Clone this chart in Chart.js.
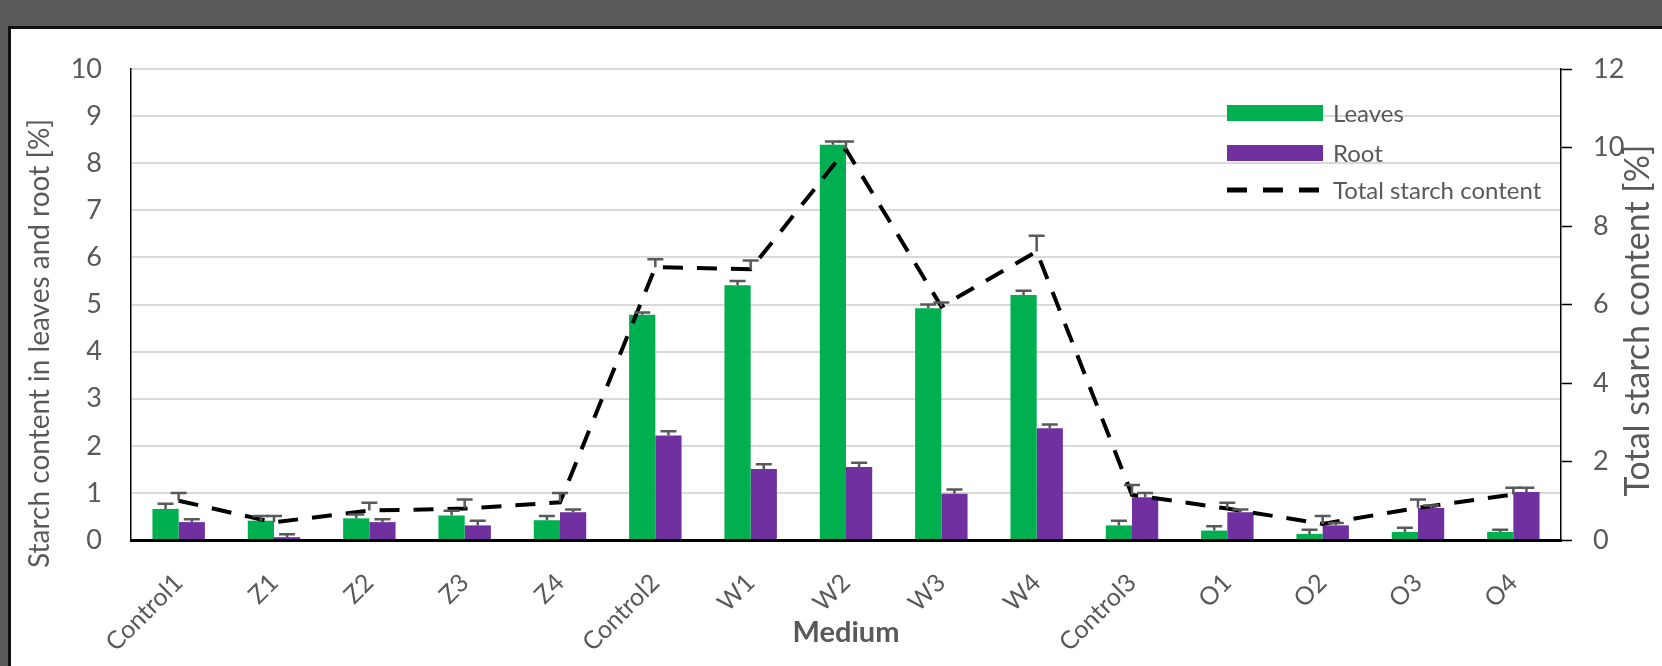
<!DOCTYPE html>
<html>
<head>
<meta charset="utf-8">
<script src="https://cdn.jsdelivr.net/npm/chart.js@4.4.1/dist/chart.umd.min.js"></script>
<style>
  html, body { margin: 0; padding: 0; background: #595959; overflow: hidden; }
  #frame {
    position: absolute; left: 8px; top: 26px; width: 1654px; height: 640px;
    background: #fff; border-left: 3px solid #111; border-top: 3px solid #111;
  }
  #wrap { position: absolute; left: 0; top: 0; width: 1651px; height: 637px; }
</style>
</head>
<body>
<div id="frame"><div id="wrap"><canvas id="my-chart" width="1651" height="637"></canvas></div></div>
<script>
const labels = ["Control1", "Z1", "Z2", "Z3", "Z4", "Control2", "W1", "W2", "W3", "W4", "Control3", "O1", "O2", "O3", "O4"];
// starch content [%], left axis
let leaves = [0.66, 0.41, 0.46, 0.52, 0.42, 4.78, 5.41, 8.39, 4.92, 5.20, 0.31, 0.20, 0.13, 0.17, 0.17];
let leavesErr = [0.11, 0.10, 0.08, 0.10, 0.09, 0.05, 0.09, 0.07, 0.08, 0.09, 0.10, 0.09, 0.09, 0.09, 0.05];
let root = [0.38, 0.06, 0.38, 0.31, 0.59, 2.22, 1.51, 1.55, 0.98, 2.37, 0.91, 0.59, 0.31, 0.68, 1.02];
let rootErr = [0.06, 0.06, 0.06, 0.10, 0.06, 0.09, 0.10, 0.09, 0.09, 0.08, 0.09, 0.06, 0.05, 0.05, 0.09];
// total starch content [%], right axis
let total = [1.0, 0.45, 0.75, 0.8, 0.96, 6.95, 6.9, 9.95, 5.95, 7.35, 1.15, 0.8, 0.41, 0.82, 1.16];
let totalErr = [0.2, 0.16, 0.2, 0.23, 0.24, 0.2, 0.22, 0.2, 0.1, 0.4, 0.25, 0.15, 0.2, 0.21, 0.17];

const gray = "#595959";
Chart.defaults.font.family = "Lato";
Chart.defaults.color = gray;

// plus-only error bars, like the excel original
const errorBars = {
  id: "errorBars",
  afterDatasetsDraw(chart) {
    const ctx = chart.ctx;
    ctx.save();
    ctx.strokeStyle = gray;
    ctx.lineWidth = 2.5;
    chart.data.datasets.forEach((ds, i) => {
      if (!ds.errorBars) return;
      const meta = chart.getDatasetMeta(i);
      const scale = chart.scales[meta.yAxisID];
      meta.data.forEach((el, j) => {
        const y0 = scale.getPixelForValue(ds.data[j]);
        const y1 = scale.getPixelForValue(ds.data[j] + ds.errorBars[j]);
        ctx.beginPath();
        ctx.moveTo(el.x, y0);
        ctx.lineTo(el.x, y1);
        ctx.moveTo(el.x - 8, y1);
        ctx.lineTo(el.x + 8, y1);
        ctx.stroke();
      });
    });
    ctx.restore();
  },
};

// legend inside the plot + both y axis titles (bottom-to-top, placed like excel)
const extras = {
  id: "extras",
  afterDraw(chart) {
    const ctx = chart.ctx;
    const area = chart.chartArea;
    const mid = (area.top + area.bottom) / 2;
    ctx.save();
    const lx = area.right - 334;
    const rows = [
      { text: "Leaves", y: area.top + 44, fill: "#00b050" },
      { text: "Root", y: area.top + 84, fill: "#7030a0" },
      { text: "Total starch content", y: area.top + 121, dash: true },
    ];
    ctx.font = "24px Lato";
    ctx.textBaseline = "middle";
    rows.forEach((r) => {
      if (r.dash) {
        ctx.strokeStyle = "#000";
        ctx.lineWidth = 5;
        ctx.setLineDash([20, 16]);
        ctx.beginPath();
        ctx.moveTo(lx, r.y);
        ctx.lineTo(lx + 96, r.y);
        ctx.stroke();
        ctx.setLineDash([]);
      } else {
        ctx.fillStyle = r.fill;
        ctx.fillRect(lx, r.y - 8, 96, 16);
      }
      ctx.fillStyle = gray;
      ctx.fillText(r.text, lx + 106, r.y + 1);
    });

    ctx.textAlign = "center";
    ctx.save();
    ctx.font = "28px Lato";
    ctx.translate(29, mid + 39);
    ctx.rotate(-Math.PI / 2);
    ctx.fillText("Starch content in leaves and root [%]", 0, 0);
    ctx.restore();

    ctx.font = "34px Lato";
    ctx.translate(area.right + 77, mid + 16);
    ctx.rotate(-Math.PI / 2);
    ctx.fillText("Total starch content [%]", 0, 0);
    ctx.restore();
  },
};

// keep the plot box where excel had it: no extra label padding
function fixPadding(scale) {
  scale.paddingTop = 0;
  scale.paddingBottom = 0;
  scale.paddingLeft = 0;
  scale.paddingRight = 0;
}

let myChart = document.getElementById("my-chart").getContext("2d");

let starchChart = new Chart(myChart, {
  type: "bar",
  data: {
    labels: labels,
    datasets: [
      {
        type: "line",
        label: "Total starch content",
        data: total,
        errorBars: totalErr,
        yAxisID: "y1",
        borderColor: "#000",
        borderWidth: 4,
        borderDash: [20, 14],
        pointRadius: 0,
        fill: false,
        order: 0,
      },
      {
        label: "Leaves",
        data: leaves,
        errorBars: leavesErr,
        yAxisID: "y",
        backgroundColor: "#00b050",
        categoryPercentage: 0.55,
        barPercentage: 1.0,
        order: 1,
      },
      {
        label: "Root",
        data: root,
        errorBars: rootErr,
        yAxisID: "y",
        backgroundColor: "#7030a0",
        categoryPercentage: 0.55,
        barPercentage: 1.0,
        order: 1,
      },
    ],
  },
  options: {
    responsive: false,
    animation: false,
    layout: { padding: { top: 40, left: 0, right: 0, bottom: 0 } },
    plugins: {
      legend: { display: false },
      tooltip: { enabled: false },
    },
    scales: {
      x: {
        grid: { display: false },
        border: { display: true, color: "#000", width: 3 },
        ticks: { minRotation: 45, maxRotation: 45, padding: 20, font: { size: 25 }, color: gray },
        title: { display: true, text: "Medium", font: { size: 29, weight: "bold" }, color: gray, padding: { top: 0, bottom: 16 } },
        afterFit(scale) { scale.height = 126; fixPadding(scale); },
      },
      y: {
        position: "left",
        min: 0,
        max: 10,
        ticks: { stepSize: 1, padding: 29, font: { size: 27 }, color: gray },
        grid: { color: "#d9d9d9", lineWidth: 2, drawTicks: false },
        border: { display: true, color: "#000", width: 1.5 },
        afterFit(scale) { scale.width = 120; fixPadding(scale); },
      },
      y1: {
        position: "right",
        min: 0,
        max: 12,
        ticks: { stepSize: 2, padding: 21, font: { size: 27 }, color: gray },
        grid: { drawOnChartArea: false, drawTicks: true, tickLength: 11, tickColor: "#000", tickWidth: 1.5 },
        border: { display: true, color: "#000", width: 1.5 },
        afterFit(scale) { scale.width = 101; fixPadding(scale); },
      },
    },
  },
  plugins: [errorBars, extras],
});
</script>
</body>
</html>
